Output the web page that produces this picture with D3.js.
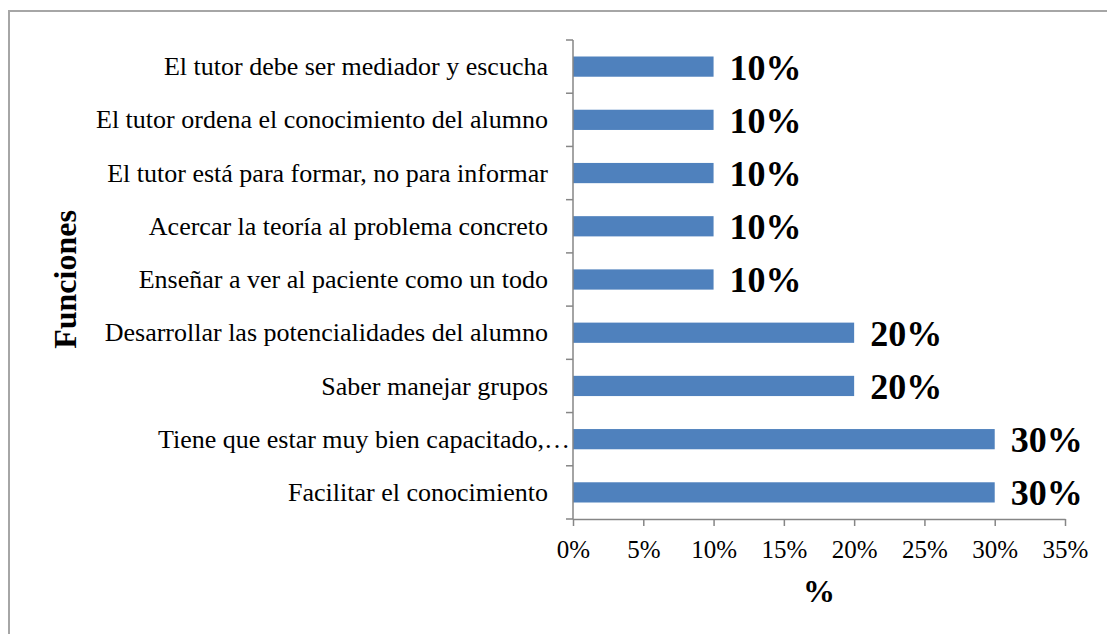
<!DOCTYPE html>
<html>
<head>
<meta charset="utf-8">
<script src="https://cdn.jsdelivr.net/npm/d3@7"></script>
<style>
  body { margin: 0; background: #fff; }
  text { font-family: "Liberation Serif", "Times New Roman", serif; }
</style>
</head>
<body>
<div id="chart"></div>
<script>
// Data (listed top first, as they appear in the chart)
const categories = [
    "El tutor debe ser mediador y escucha",
    "El tutor ordena el conocimiento del alumno",
    "El tutor está para formar, no para informar",
    "Acercar la teoría al problema concreto",
    "Enseñar a ver al paciente como un todo",
    "Desarrollar las potencialidades del alumno",
    "Saber manejar grupos",
    "Tiene que estar muy bien capacitado,…",
    "Facilitar el conocimiento"
];
const values = [0.10, 0.10, 0.10, 0.10, 0.10, 0.20, 0.20, 0.30, 0.30];
const xTicks = [0, 0.05, 0.10, 0.15, 0.20, 0.25, 0.30, 0.35];

const width = 1107;
const height = 634;
const margin = { top: 40, right: 42, bottom: 115, left: 573 };

const svg = d3.select("#chart").append("svg")
    .attr("width", width)
    .attr("height", height);

// Outer frame
svg.append("rect")
    .attr("x", 9)
    .attr("y", 11)
    .attr("width", width + 20)
    .attr("height", height + 20)
    .attr("fill", "none")
    .attr("stroke", "#a6a6a6")
    .attr("stroke-width", 2);

const chart = svg.append("g")
    .attr("transform", `translate(${margin.left},${margin.top})`);

const innerH = height - margin.top - margin.bottom;

const x = d3.scaleLinear()
    .domain([0, 0.35])
    .range([0, 492]);

const y = d3.scaleBand()
    .domain(categories)
    .range([0, innerH])
    .paddingInner(0.62)
    .paddingOuter(0.31);

const rows = categories.map((c, i) => ({ category: c, value: values[i] }));

// Bars
chart.selectAll(".bar")
    .data(rows)
    .join("rect")
    .attr("class", "bar")
    .attr("x", 0)
    .attr("y", d => y(d.category))
    .attr("width", d => x(d.value))
    .attr("height", y.bandwidth())
    .attr("fill", "#4f81bd");

// Value labels
chart.selectAll(".value-label")
    .data(rows)
    .join("text")
    .attr("class", "value-label")
    .attr("x", d => x(d.value) + 16)
    .attr("y", d => y(d.category) + y.bandwidth() / 2)
    .attr("dy", "0.36em")
    .attr("font-size", 36)
    .attr("font-weight", "bold")
    .attr("fill", "#000")
    .text(d => d3.format(".0%")(d.value));

// Y axis with ticks between categories
const yAxis = chart.append("g");
yAxis.append("line")
    .attr("x1", 0).attr("x2", 0)
    .attr("y1", 0).attr("y2", innerH)
    .attr("stroke", "#868686")
    .attr("stroke-width", 1.5);
yAxis.selectAll(".ytick")
    .data(d3.range(categories.length + 1))
    .join("line")
    .attr("class", "ytick")
    .attr("x1", -7).attr("x2", 0)
    .attr("y1", i => i * y.step())
    .attr("y2", i => i * y.step())
    .attr("stroke", "#868686")
    .attr("stroke-width", 1.5);
yAxis.selectAll(".ylabel")
    .data(categories)
    .join("text")
    .attr("class", "ylabel")
    .attr("x", d => d.endsWith("…") ? -3 : -25)
    .attr("y", d => y(d) + y.bandwidth() / 2)
    .attr("dy", "0.33em")
    .attr("text-anchor", "end")
    .attr("font-size", 26)
    .attr("fill", "#000")
    .text(d => d);

// X axis
const xAxis = chart.append("g")
    .attr("transform", `translate(0,${innerH})`)
    .call(d3.axisBottom(x)
        .tickValues(xTicks)
        .tickSize(7)
        .tickPadding(14)
        .tickSizeOuter(0)
        .tickFormat(d3.format(".0%")));
xAxis.select(".domain").attr("stroke", "#868686").attr("stroke-width", 1.5);
xAxis.selectAll(".tick line").attr("stroke", "#868686").attr("stroke-width", 1.5);
xAxis.selectAll(".tick text")
    .attr("font-size", 25)
    .attr("font-family", "'Liberation Serif', serif")
    .attr("fill", "#000");

// Axis titles
svg.append("text")
    .attr("x", margin.left + x(0.35) / 2)
    .attr("y", 602)
    .attr("text-anchor", "middle")
    .attr("font-size", 32)
    .attr("font-weight", "bold")
    .attr("fill", "#000")
    .text("%");

svg.append("text")
    .attr("transform", `translate(76,${margin.top + innerH / 2}) rotate(-90)`)
    .attr("text-anchor", "middle")
    .attr("font-size", 32)
    .attr("font-weight", "bold")
    .attr("fill", "#000")
    .text("Funciones");
</script>
</body>
</html>
